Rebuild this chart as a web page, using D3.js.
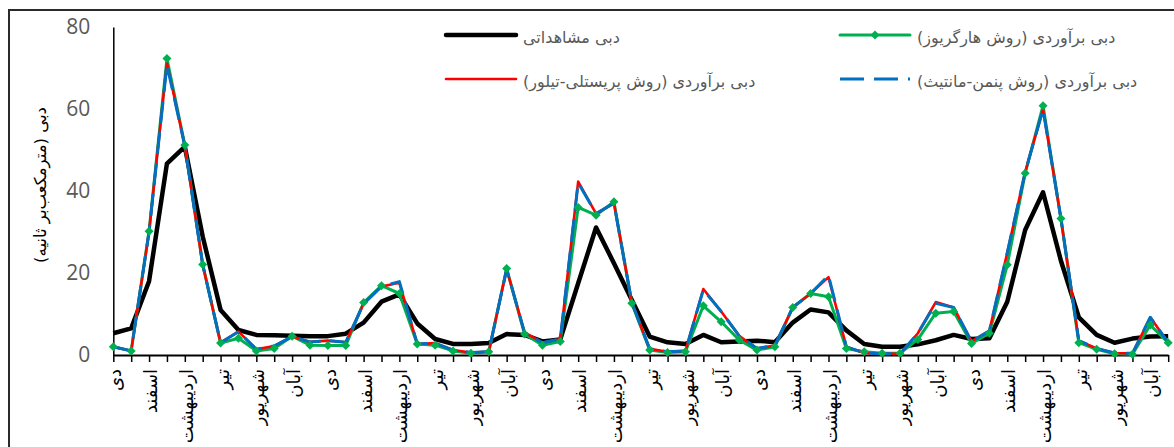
<!DOCTYPE html>
<html><head><meta charset="utf-8">
<script src="https://cdn.jsdelivr.net/npm/d3@7"></script>
<style>body{margin:0;background:#fff;} svg{display:block;background:#fff}</style>
</head><body><svg id="c" width="1174" height="447"></svg>
<script>
const monthCycle = ["دی","بهمن","اسفند","فروردین","اردیبهشت","خرداد","تیر","مرداد","شهریور","مهر","آبان","آذر"];
const months = [].concat(monthCycle, monthCycle, monthCycle, monthCycle, monthCycle);
const observed = [5.3,6.5,18,46.7,50.8,28.9,11,6.1,4.9,4.8,4.7,4.6,4.6,5.2,7.9,13,14.8,7.7,3.9,2.7,2.7,2.9,5.1,4.9,3.3,3.8,17.5,31.1,22.4,13.4,4.5,3.1,2.7,4.9,3.1,3.3,3.5,3.1,7.9,11.1,10.4,6,2.7,2.0,2.0,2.6,3.6,4.9,3.9,4.1,13,30.5,39.7,23,9.2,4.9,3.0,4.0,4.5,4.6];
const hargreaves = [2.0,1.0,30.2,72.3,51.2,22.1,2.9,4.1,1.0,1.6,4.6,2.4,2.3,2.3,12.8,16.9,15.0,2.7,2.4,1.0,0.4,0.8,21.1,5.1,2.4,3.3,36.0,34.1,37.4,12.6,1.2,0.6,0.8,12.0,8.1,3.7,1.2,2.0,11.6,15.0,14.2,1.6,0.8,0.4,0.4,3.8,10.2,10.6,2.8,5.3,22.0,44.3,60.8,33.3,3.0,1.4,0.3,0.2,7.3,3.0];
const priestley = [2.0,1.0,30.0,71.2,51.0,22.0,3.0,5.7,1.4,2.2,4.5,3.2,3.5,3.1,12.5,16.7,17.6,2.7,2.9,1.2,0.6,0.8,20.9,5.5,3.0,3.9,42.3,34.5,37.0,12.8,1.5,0.8,1.0,16.1,10.6,4.7,1.6,2.3,11.6,15.0,19.0,2.0,0.5,0.3,0.3,5.3,12.9,11.6,3.3,5.9,25.0,44.6,59.9,33.3,3.5,1.6,0.5,0.4,9.2,3.0];
const penman = [2.0,1.0,30.0,70.8,51.0,22.0,3.0,5.7,1.4,2.2,4.5,3.2,3.5,3.1,12.5,16.7,17.9,2.7,2.9,1.2,0.6,0.8,20.9,5.5,3.0,3.9,42.0,34.5,37.0,12.8,1.5,0.8,1.0,15.9,10.6,4.7,1.6,2.3,11.6,15.0,19.4,2.0,0.5,0.3,0.3,5.3,12.6,11.6,3.3,5.9,25.0,44.6,59.9,33.3,3.5,1.6,0.5,0.4,9.2,3.0];
const yTickValues = [0,20,40,60,80];
const seriesNames = ["دبی مشاهداتی","دبی برآوردی (روش هارگریوز)","دبی برآوردی (روش پریستلی-تیلور)","دبی برآوردی (روش پنمن-مانتیث)"];
const yTitle = "دبی (مترمکعب‌بر ثانیه)";

const faFont = "'DejaVu Sans', sans-serif";
const svg = d3.select("#c");

svg.append("rect").attr("x",9).attr("y",10).attr("width",1300).attr("height",600)
  .attr("fill","#fff").attr("stroke","#2b2b2b").attr("stroke-width",2);

const idx = d3.range(months.length);
const x = d3.scalePoint().domain(idx).range([113.3, 1168.2]);
const y = d3.scaleLinear().domain([0,80]).range([355, 27]);

// Y axis
const ya = svg.append("g").attr("transform","translate(113.3,0)")
  .call(d3.axisLeft(y).tickValues(yTickValues).tickSize(0).tickSizeOuter(0).tickPadding(23));
ya.select(".domain").attr("stroke","#000").attr("stroke-width",1.5);
ya.selectAll("text").attr("font-family","'Open Sans', sans-serif").attr("font-size",21).attr("fill","#595959");

// X axis
const xa = svg.append("g").attr("transform","translate(0,355)")
  .call(d3.axisBottom(x).tickSize(7).tickSizeOuter(0).tickFormat(i => i % 2 === 0 ? months[i] : ""));
xa.select(".domain").attr("stroke","#000").attr("stroke-width",2);
xa.selectAll(".tick line").attr("stroke","#000").attr("stroke-width",1.5);
xa.selectAll("text").attr("font-family",faFont).attr("font-size",18).attr("fill","#000")
  .attr("transform","rotate(-90)").attr("x",-14).attr("y",0).attr("dy","0.42em").attr("text-anchor","end");

// Y title
svg.append("text").attr("transform","translate(40,185) rotate(-90)")
  .attr("text-anchor","middle").attr("dy","0.35em")
  .attr("font-family",faFont).attr("font-size",16.5).attr("fill","#000").text(yTitle);

const line = d3.line().x((d,i)=>x(i)).y(d=>y(d));

svg.append("path").datum(observed).attr("d",line).attr("fill","none")
  .attr("stroke","#000").attr("stroke-width",4.5).attr("stroke-linejoin","round");
svg.append("path").datum(hargreaves).attr("d",line).attr("fill","none")
  .attr("stroke","#00B050").attr("stroke-width",3).attr("stroke-linejoin","round");
svg.append("path").datum(priestley).attr("d",line).attr("fill","none")
  .attr("stroke","#FF0000").attr("stroke-width",2.6).attr("stroke-linejoin","round");
svg.append("path").datum(penman).attr("d",line).attr("fill","none")
  .attr("stroke","#0070C0").attr("stroke-width",3).attr("stroke-dasharray","22,9").attr("stroke-linejoin","round");

const diamond = (cx,cy,r) => `M${cx},${cy-r}L${cx+r},${cy}L${cx},${cy+r}L${cx-r},${cy}Z`;
svg.append("g").selectAll("path").data(hargreaves).join("path")
  .attr("d",(d,i)=>diamond(x(i),y(d),4.5)).attr("fill","#00B050");

// Legend
const legend = [
  {name: seriesNames[0], lx: 446, ly: 35, color:"#000", w:4.5},
  {name: seriesNames[1], lx: 840, ly: 35, color:"#00B050", w:3, marker:true},
  {name: seriesNames[2], lx: 446, ly: 79, color:"#FF0000", w:2.6},
  {name: seriesNames[3], lx: 840, ly: 79, color:"#0070C0", w:3, dash:"24,10"}
];
legend.forEach(l => {
  svg.append("line").attr("x1",l.lx).attr("x2",l.lx+70).attr("y1",l.ly).attr("y2",l.ly)
    .attr("stroke",l.color).attr("stroke-width",l.w).attr("stroke-linecap", l.dash ? "butt" : "round")
    .attr("stroke-dasharray", l.dash || null);
  if (l.marker) svg.append("path").attr("d",diamond(l.lx+35,l.ly,4.5)).attr("fill",l.color);
  svg.append("text").attr("x",l.lx+77).attr("y",l.ly+2).attr("dy","0.35em")
    .attr("font-family",faFont).attr("font-size",16).attr("fill","#595959").text(l.name);
});
</script></body></html>
